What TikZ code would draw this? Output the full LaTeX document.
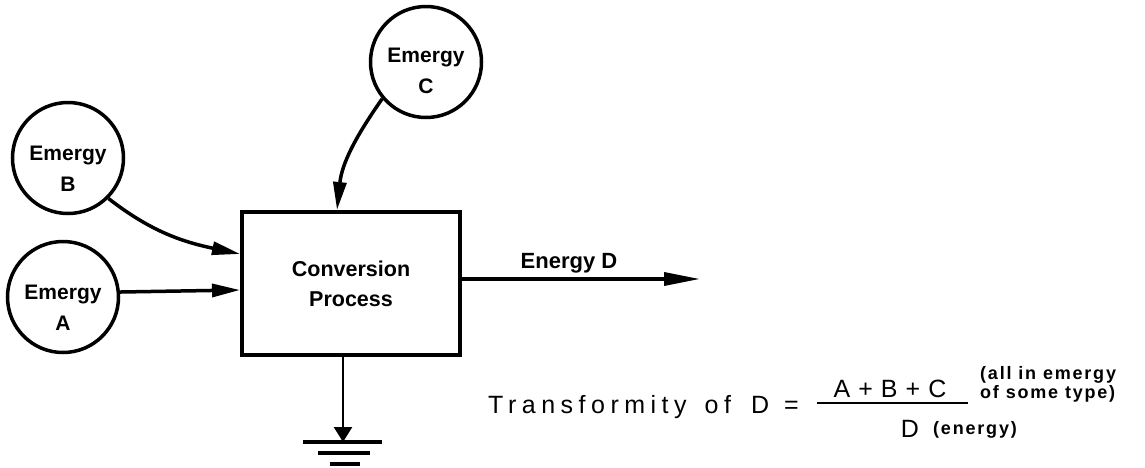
\documentclass[tikz,border=0pt]{standalone}
\usepackage{fontspec}
\setmainfont{Liberation Sans}
\newfontfamily\spaced[LetterSpace=22]{Liberation Sans}
\newfontfamily\spacedn[LetterSpace=32]{Liberation Sans}
\newfontfamily\smallb[LetterSpace=10]{Liberation Sans}
\usetikzlibrary{arrows.meta}
\begin{document}
\begin{tikzpicture}[x=1pt,y=1pt,
  emc/.style={circle,draw,line width=3.5pt,minimum size=111pt,inner sep=0pt},
  lbl/.style={align=center,inner sep=0pt,font=\fontsize{21}{31}\selectfont\bfseries},
  procbox/.style={draw,line width=4pt,minimum width=218pt,minimum height=143pt,inner sep=0pt,
    align=center,font=\fontsize{21.5}{30}\selectfont\bfseries},
  flow/.style={line width=3.5pt,-{Triangle[length=28pt,width=13pt]}},
  outflow/.style={line width=3.5pt,-{Triangle[length=36pt,width=13pt]}},
  sinkflow/.style={line width=2.5pt,-{Triangle[length=15pt,width=18pt]}},
  bigtxt/.style={inner sep=0pt,font=\fontsize{25}{30}\spaced},
  smalltxt/.style={inner sep=0pt,font=\fontsize{18}{17}\smallb\bfseries},
]
\useasboundingbox (0,0) rectangle (1145,-467);

% emergy sources
\node[emc] (B) at (68,-158) {};
\node[lbl] (Bt) at ([yshift=-11pt]B.center) {Emergy\\B};
\node[emc] (A) at (63,-297) {};
\node[lbl] (At) at ([yshift=-11pt]A.center) {Emergy\\A};
\node[emc] (C) at (426,-62) {};
\node[lbl] (Ct) at ([yshift=-9pt]C.center) {Emergy\\C};

% process
\node[procbox] (P) at (351,-283.5) {Conversion\\Process};

% inflows
\draw[flow] (B.-45) to[out=-38,in=168] ([yshift=29.5pt]P.west);
\draw[flow] (A.5) -- ([yshift=-6.5pt]P.west);
\draw[flow] (C.-140) to[out=-125,in=84] ([xshift=-14pt]P.north);

% outflow
\coordinate (Dend) at (700,-279);
\draw[outflow] ([yshift=4.5pt]P.east) -- (Dend);
\node[anchor=base,inner sep=0pt,font=\fontsize{22}{26}\selectfont\bfseries] (EDl) at (569,-268) {Energy D};

% heat sink
\coordinate (G) at (343,-442);
\draw[sinkflow] ([xshift=-8pt]P.south) -- (G);
\draw[line width=3.5pt] ([xshift=-40pt]G) -- ([xshift=39pt]G);
\draw[line width=3.5pt] ([xshift=-25pt,yshift=-11pt]G) -- ([xshift=27pt,yshift=-11pt]G);
\draw[line width=3.5pt] ([xshift=-13pt,yshift=-22pt]G) -- ([xshift=17pt,yshift=-22pt]G);

% formula
\node[bigtxt,anchor=base west] (T) at (488,-413) {Transformity\kern18pt of\kern20pt D\kern15pt =};
\node[inner sep=0pt,font=\fontsize{25}{30}\spacedn,anchor=base] (num) at (890,-397) {A+B+C};
\coordinate (fbl) at (817,-403);
\coordinate (fbr) at (968,-403);
\draw[line width=2.5pt] (fbl) -- (fbr);
\node[bigtxt,anchor=base] (den) at (910,-437) {D};
\node[smalltxt,anchor=base west] (en) at (933,-434) {(energy)};
\node[smalltxt,anchor=base west] (n1) at (980,-379) {(all in emergy};
\node[smalltxt,anchor=base west] (n2) at (980,-398) {of some type)};
\end{tikzpicture}
\end{document}
